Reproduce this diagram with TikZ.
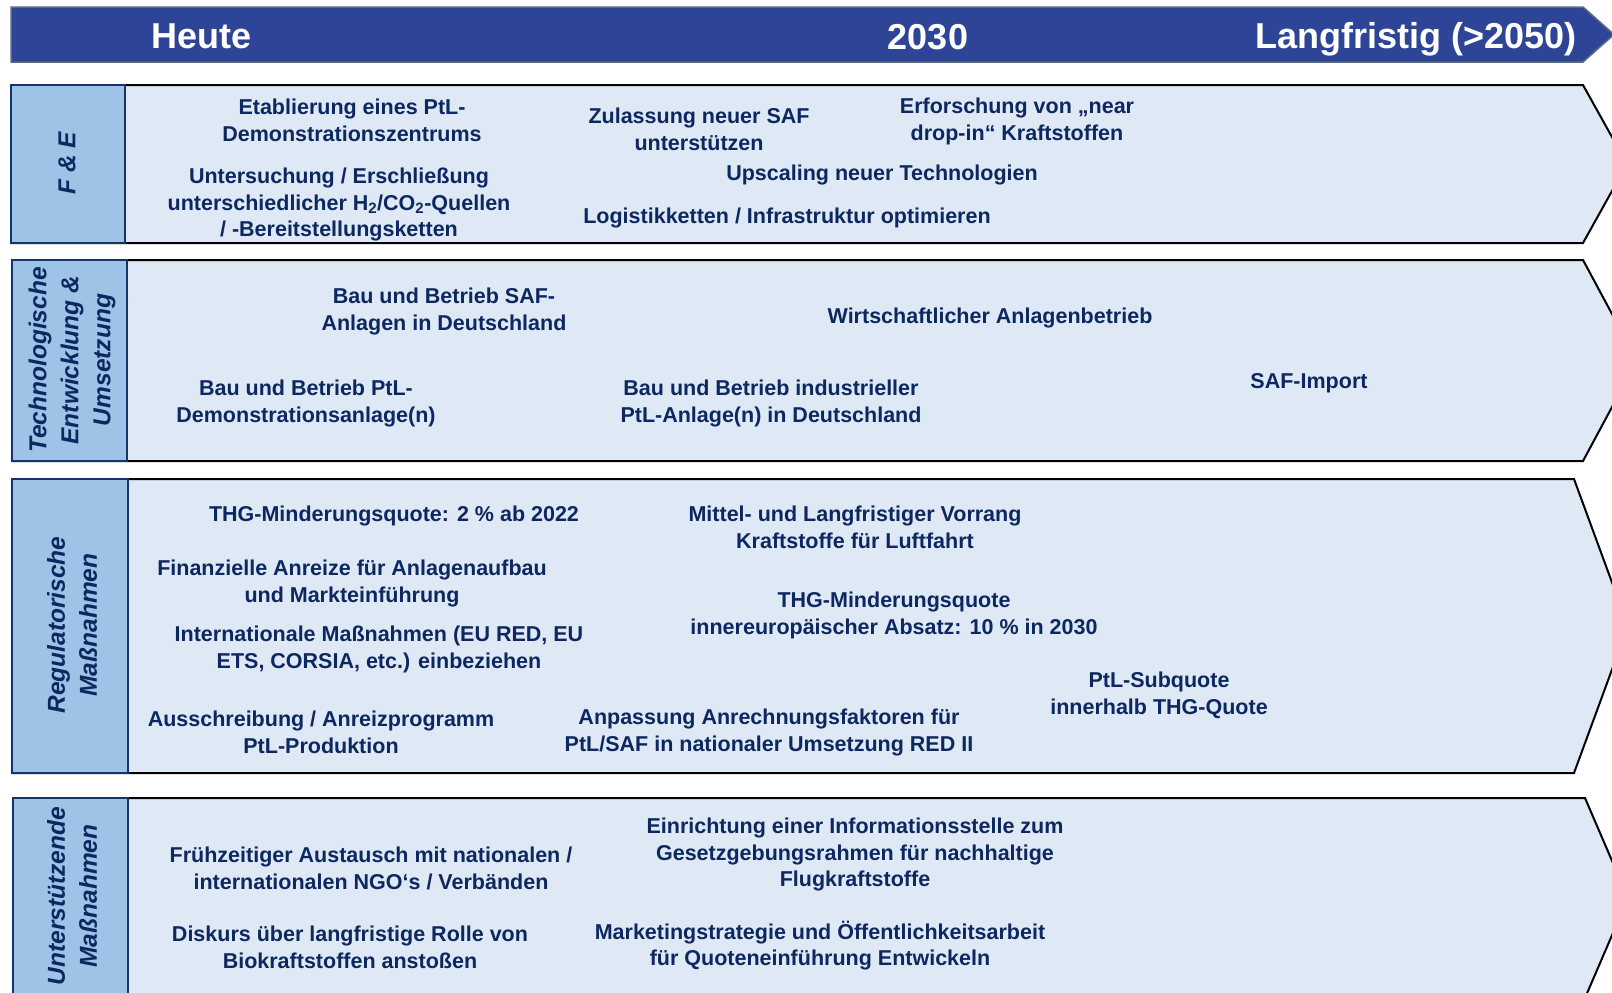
\documentclass[tikz,border=0pt]{standalone}
\usepackage{fontspec}
\setmainfont{Liberation Sans}
\definecolor{barblue}{HTML}{2E4597}
\definecolor{bargray}{HTML}{5B6B84}
\definecolor{labblue}{HTML}{9DC3E6}
\definecolor{bodyblue}{HTML}{DEE9F5}
\definecolor{colnavy}{HTML}{17336B}
\definecolor{txtnavy}{HTML}{0D2860}
\begin{document}
\begin{tikzpicture}[x=1pt,y=-1pt,
    item/.style={text=txtnavy,font=\bfseries\fontsize{21.5}{26.6}\selectfont,align=center,inner sep=0pt,yshift=-2.5pt},
    lab/.style={text=txtnavy,font=\bfseries\itshape\fontsize{24.5}{32}\selectfont,align=center,rotate=90,inner sep=0pt},
    hdr/.style={text=white,font=\bfseries\fontsize{36}{40}\selectfont,inner sep=0pt},
    row/.style={fill=bodyblue,draw=black,line width=2pt,line join=miter},
    col/.style={fill=labblue,draw=colnavy,line width=2pt}]
  \useasboundingbox (0,0) rectangle (1612,993);
  \clip (0,0) rectangle (1612,993);

  %time bar
  \draw[fill=barblue,draw=bargray,line width=1.5pt] (11,7) -- (1583,7) -- (1614,34.5) -- (1583,62) -- (11,62) -- cycle;
  \node[hdr] (heute) at (202,36) {Heute};
  \node[hdr] (mitte) at (928,37) {2030};
  \node[hdr] (lang) at (1416,39) {Langfristig (>2050)};

  %draw rows
  \draw[row] (11,85) -- (1583,85) -- (1627,164) -- (1583,243) -- (11,243) -- cycle;
  \draw[row] (12,260) -- (1583,260) -- (1637,360.5) -- (1583,461) -- (12,461) -- cycle;
  \draw[row] (12,479) -- (1574,479) -- (1628,626) -- (1574,773) -- (12,773) -- cycle;
  \draw[row] (13,798) -- (1585,798) -- (1628,898) -- (1585,998) -- (13,998) -- cycle;

  %label columns
  \draw[col] (11,85) rectangle (125,243);
  \draw[col] (12,260) rectangle (127,461);
  \draw[col] (12,479) rectangle (128,773);
  \draw[col] (13,798) rectangle (128,998);

  \node[lab] (labfe) at (67,163) {F \& E};
  \node[lab] (labtech) at (72,360) {Technologische\\Entwicklung \&\\Umsetzung};
  \node[lab] (labreg) at (72,625) {Regulatorische\\Maßnahmen};
  \node[lab] (labunt) at (72,896) {Unterstützende\\Maßnahmen};

  %F&E
  \node[item] (fe1) at (352,118) {Etablierung eines PtL-\\Demonstrationszentrums};
  \node[item] (fe2) at (339,202) {Untersuchung / Erschließung\\unterschiedlicher H\textsubscript{2}/CO\textsubscript{2}-Quellen\\/ -Bereitstellungsketten};
  \node[item] (fe3) at (699,127) {Zulassung neuer SAF\\unterstützen};
  \node[item] (fe4) at (1017,119) {Erforschung von „near\\drop-in“ Kraftstoffen};
  \node[item] (fe5) at (882,172) {Upscaling neuer Technologien};
  \node[item] (fe6) at (787,215) {Logistikketten / Infrastruktur optimieren};

  %Technologie
  \node[item] (tech1) at (444,309) {Bau und Betrieb SAF-\\Anlagen in Deutschland};
  \node[item] (tech2) at (990,315) {Wirtschaftlicher Anlagenbetrieb};
  \node[item] (tech3) at (306,401) {Bau und Betrieb PtL-\\Demonstrationsanlage(n)};
  \node[item] (tech4) at (771,401) {Bau und Betrieb industrieller\\PtL-Anlage(n) in Deutschland};
  \node[item] (tech5) at (1309,381) {SAF-Import};

  %Regulatorik
  \node[item] (reg1) at (394,513) {THG-Minderungsquote: 2 \% ab 2022};
  \node[item] (reg2) at (855,525) {Mittel- und Langfristiger Vorrang\\Kraftstoffe für Luftfahrt};
  \node[item] (reg3) at (352,581) {Finanzielle Anreize für Anlagenaufbau\\und Markteinführung};
  \node[item] (reg4) at (894,613) {THG-Minderungsquote\\innereuropäischer Absatz: 10 \% in 2030};
  \node[item] (reg5) at (379,647) {Internationale Maßnahmen (EU RED, EU\\ETS, CORSIA, etc.) einbeziehen};
  \node[item] (reg6) at (1159,693) {PtL-Subquote\\innerhalb THG-Quote};
  \node[item] (reg7) at (321,730) {Ausschreibung / Anreizprogramm\\PtL-Produktion};
  \node[item] (reg8) at (769,730) {Anpassung Anrechnungsfaktoren für\\PtL/SAF in nationaler Umsetzung RED II};

  %Unterstuetzung
  \node[item] (unt1) at (371,866) {Frühzeitiger Austausch mit nationalen /\\internationalen NGO‘s / Verbänden};
  \node[item] (unt2) at (855,852) {Einrichtung einer Informationsstelle zum\\Gesetzgebungsrahmen für nachhaltige\\Flugkraftstoffe};
  \node[item] (unt3) at (350,945) {Diskurs über langfristige Rolle von\\Biokraftstoffen anstoßen};
  \node[item] (unt4) at (820,943) {Marketingstrategie und Öffentlichkeitsarbeit\\für Quoteneinführung Entwickeln};
\end{tikzpicture}
\end{document}
